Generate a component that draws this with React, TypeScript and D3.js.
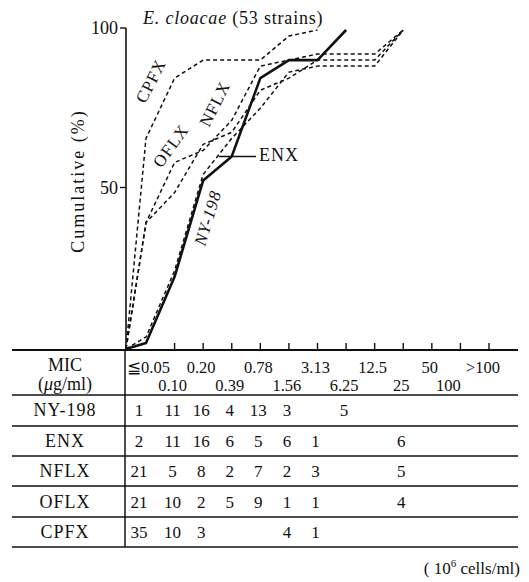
import React from "react";
import * as d3 from "d3";

const micLabels = ["≦0.05", "0.10", "0.20", "0.39", "0.78", "1.56", "3.13", "6.25", "12.5", "25", "50", "100", ">100"];
const drugs = ["NY-198", "ENX", "NFLX", "OFLX", "CPFX"];
const ny198 = [1, 11, 16, 4, 13, 3, null, 5, null, null, null, null, null];
const enx = [2, 11, 16, 6, 5, 6, 1, null, null, 6, null, null, null];
const nflx = [21, 5, 8, 2, 7, 2, 3, null, null, 5, null, null, null];
const oflx = [21, 10, 2, 5, 9, 1, 1, null, null, 4, null, null, null];
const cpfx = [35, 10, 3, null, null, 4, 1, null, null, null, null, null, null];
const counts = [ny198, enx, nflx, oflx, cpfx];
const totalStrains = 53;
const yTicks = [50, 100];
const title = "E. cloacae";
const titleRest = " (53 strains)";
const yTitle = "Cumulative (%)";
const footnote = "cells/ml)";

const FONT = "'Liberation Serif', 'Times New Roman', serif";

export default function App() {
  const W = 529, H = 582;
  const x = d3.scaleLinear().domain([0, 12]).range([146, 489]);
  const y = d3.scaleLinear().domain([0, 100]).range([349, 30]);
  const originX = 126;
  const axisY = y(0);

  const line = d3
    .line<[number, number]>()
    .x((d) => d[0])
    .y((d) => y(d[1]));

  const series = counts.map((arr, si) => {
    const vals = arr.map((v) => v ?? 0);
    const cum = Array.from(d3.cumsum(vals));
    let last = 0;
    vals.forEach((v, i) => {
      if (v > 0) last = i;
    });
    const pts: [number, number][] = [[originX, 0]];
    for (let i = 0; i <= last; i++) pts.push([x(i), (cum[i] / totalStrains) * 100]);
    return { name: drugs[si], d: line(pts) || "" };
  });

  const rowLines = [350, 395, 426, 456, 486, 517, 547];
  const rowBase = [416, 447, 477, 508, 538];

  const seriesLabels = [
    { t: "CPFX", cx: 151, cy: 81, a: -63, it: false },
    { t: "OFLX", cx: 171, cy: 146, a: -54, it: false },
    { t: "NFLX", cx: 215, cy: 104, a: -63, it: false },
    { t: "NY-198", cx: 208, cy: 218, a: -73, it: true },
  ];

  const enxPointer = y((d3.sum(ny198.slice(0, 4).map((v) => v ?? 0)) / totalStrains) * 100);

  return (
    <svg
      width={W}
      height={H}
      style={{ position: "absolute", left: 0, top: 0, background: "#fff" }}
      fontFamily={FONT}
    >
      <rect x={0} y={0} width={W} height={H} fill="#fff" />
      {/* title */}
      <text x={143} y={24} fontSize={18} letterSpacing={0.8} fill="#111">
        <tspan fontStyle="italic">{title}</tspan>
        <tspan>{titleRest}</tspan>
      </text>

      {/* y axis */}
      <line x1={originX} x2={originX} y1={y(100) - 2} y2={axisY} stroke="#111" strokeWidth={1.6} />
      {yTicks.map((t) => (
        <g key={t}>
          <line x1={originX - 6} x2={originX} y1={y(t) - 2} y2={y(t) - 2} stroke="#111" strokeWidth={1.4} />
          <text x={118} y={y(t) + 4} textAnchor="end" fontSize={18} fill="#111">
            {t}
          </text>
        </g>
      ))}
      <text
        transform={`translate(84,${181}) rotate(-90)`}
        textAnchor="middle"
        fontSize={18}
        letterSpacing={2}
        fill="#111"
      >
        {yTitle}
      </text>

      {/* x ticks */}
      {micLabels.map((_, i) =>
        i === 0 ? null : (
          <line key={i} x1={x(i)} x2={x(i)} y1={axisY - 6} y2={axisY} stroke="#111" strokeWidth={1.4} />
        )
      )}

      {/* curves */}
      {series.map((s) => (
        <path
          key={s.name}
          d={s.d}
          fill="none"
          stroke="#111"
          strokeWidth={s.name === "NY-198" ? 2.6 : 1.5}
          strokeDasharray={s.name === "NY-198" ? undefined : "4,3"}
          strokeLinejoin="round"
        />
      ))}

      {/* series labels */}
      {seriesLabels.map((l) => (
        <text
          key={l.t}
          transform={`translate(${l.cx},${l.cy}) rotate(${l.a})`}
          textAnchor="middle"
          dominantBaseline="central"
          fontSize={17}
          letterSpacing={1}
          fontStyle={l.it ? "italic" : "normal"}
          fill="#111"
        >
          {l.t}
        </text>
      ))}
      <line x1={219} x2={256} y1={enxPointer} y2={enxPointer} stroke="#111" strokeWidth={1.5} />
      <text x={259} y={161} fontSize={18} letterSpacing={1} fill="#111">
        ENX
      </text>

      {/* table */}
      {rowLines.map((ly, i) => (
        <line key={i} x1={12} x2={518} y1={ly} y2={ly} stroke="#111" strokeWidth={i === 0 ? 1.8 : 1.5} />
      ))}
      <line x1={125} x2={125} y1={rowLines[0]} y2={rowLines[rowLines.length - 1]} stroke="#111" strokeWidth={1.5} />

      <text x={65} y={371} textAnchor="middle" fontSize={18} fill="#111">
        MIC
      </text>
      <text x={65} y={390} textAnchor="middle" fontSize={18} fill="#111">
        (<tspan fontStyle="italic">μ</tspan>g/ml)
      </text>

      {micLabels.map((m, i) => {
        const top = i % 2 === 0;
        let px = x(i) - 2;
        let anchor: "middle" | "start" = "middle";
        if (i === 0) {
          px = 127;
          anchor = "start";
        }
        if (i === 11) px = x(i) - 12;
        if (i === 12) px = x(i) - 6;
        return (
          <text
            key={m}
            x={px}
            y={top ? 373 : 391}
            textAnchor={anchor}
            fontSize={16.5}
            fill="#111"
          >
            {m}
          </text>
        );
      })}

      {drugs.map((dname, r) => (
        <g key={dname}>
          <text x={65} y={rowBase[r]} textAnchor="middle" fontSize={18} letterSpacing={1} fill="#111">
            {dname}
          </text>
          {counts[r].map((v, i) =>
            v == null ? null : (
              <text
                key={i}
                x={i === 0 ? x(i) - 7 : x(i) - 2}
                y={rowBase[r]}
                textAnchor="middle"
                fontSize={17}
                fill="#111"
              >
                {v}
              </text>
            )
          )}
        </g>
      ))}

      <text x={520} y={574} textAnchor="end" fontSize={17} fill="#111">
        ( 10<tspan dy={-7} fontSize={11}>6</tspan>
        <tspan dy={7}> {footnote}</tspan>
      </text>
    </svg>
  );
}
